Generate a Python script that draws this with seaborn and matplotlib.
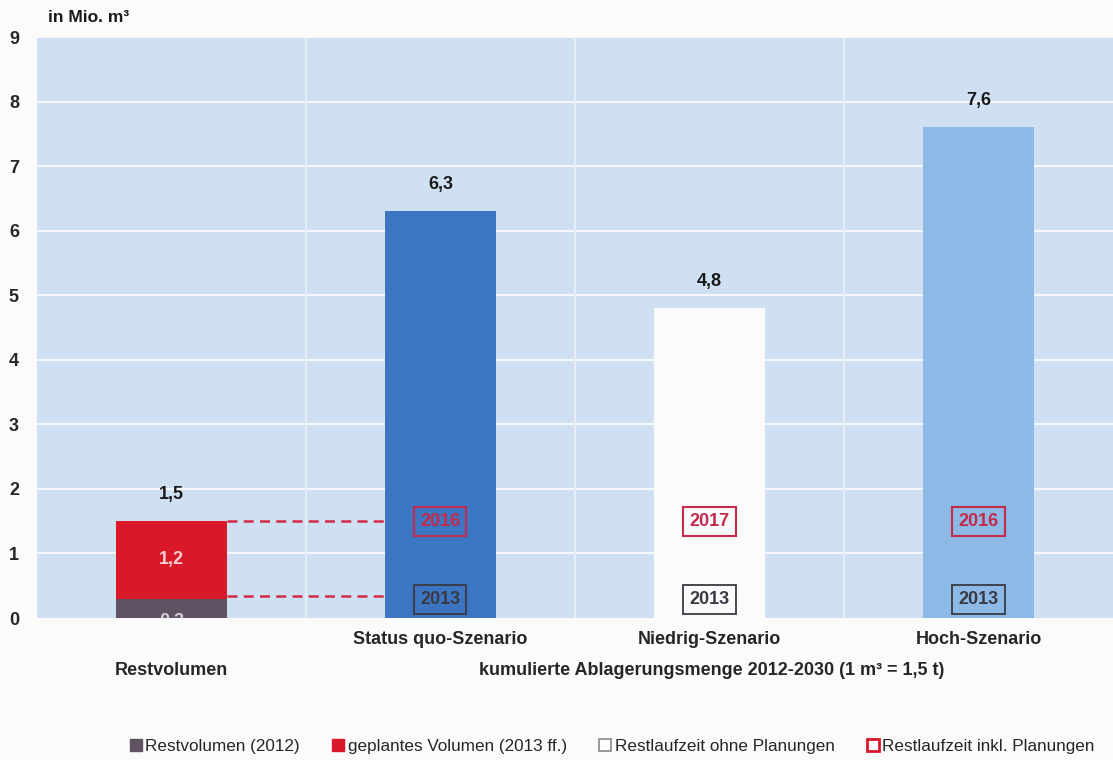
import matplotlib
matplotlib.use("Agg")
import matplotlib.pyplot as plt
import seaborn as sns
import pandas as pd
from matplotlib.patches import Patch

# ---- data ----
categories = ["Restvolumen", "Status quo-Szenario", "Niedrig-Szenario", "Hoch-Szenario"]
totals = [1.5, 6.3, 4.8, 7.6]
rest_2012 = [0.3]            # grey part of Restvolumen
planned = [1.2]              # red part of Restvolumen
total_labels = ["1,5", "6,3", "4,8", "7,6"]
year_low = ["", "2013", "2013", "2013"]
year_high = ["", "2016", "2017", "2016"]
yticks = list(range(0, 10))
legend_labels = ["Restvolumen (2012)", "geplantes Volumen (2013 ff.)",
                 "Restlaufzeit ohne Planungen", "Restlaufzeit inkl. Planungen"]

c_grey = "#5f5262"
c_red = "#d9182a"
c_sq = "#3c76c3"
c_low = "#fbfbfb"
c_high = "#8cb9e6"
c_bg = "#cfe0f3"
c_box_red = "#c42a4a"
c_box_grey = "#3a3a44"

sns.set_theme(style="white")
plt.rcParams["font.family"] = ["Liberation Sans", "DejaVu Sans"]

fig = plt.figure(figsize=(11.13, 7.6), dpi=100, facecolor="#fbfbfb")
ax = fig.add_axes([0.0332, 0.1868, 0.9668, 0.7645])
ax.set_facecolor(c_bg)

df = pd.DataFrame({"cat": categories, "val": totals})
sns.barplot(data=df, x="cat", y="val", hue="cat", order=categories,
            palette=[c_red, c_sq, c_low, c_high], width=0.41, legend=False,
            ax=ax, saturation=1, zorder=3, linewidth=0)
df2 = pd.DataFrame({"cat": categories[:1], "val": rest_2012})
sns.barplot(data=df2, x="cat", y="val", order=categories, color=c_grey,
            width=0.41, ax=ax, saturation=1, zorder=4, linewidth=0)

ax.set_ylim(0, 9)
ax.set_xlim(-0.5, 3.5)
ax.set_yticks(yticks)
ax.set_yticklabels([str(t) for t in yticks], fontsize=13, fontweight="bold")
ax.tick_params(axis="y", length=0, pad=13)
ax.tick_params(axis="x", length=0, pad=9)
for s in ax.spines.values():
    s.set_visible(False)
ax.set_xlabel("")
ax.set_ylabel("")

# grid: white horizontal, category separators
for y in yticks[1:]:
    ax.axhline(y, color="white", lw=1.2, zorder=1)
for xs in [0.5, 1.5, 2.5]:
    ax.axvline(xs, color="#e6eef8", lw=1.5, zorder=1)

# tick labels
ax.set_xticks(range(len(categories)))
ax.set_xticklabels(["", categories[1], categories[2], categories[3]],
                   fontsize=13, fontweight="bold")
ax.text(0, -0.075, categories[0], transform=ax.get_xaxis_transform(),
        ha="center", va="top", fontsize=13, fontweight="bold")
ax.text(2.01, -0.075, "kumulierte Ablagerungsmenge 2012-2030 (1 m³ = 1,5 t)",
        transform=ax.get_xaxis_transform(), ha="center", va="top",
        fontsize=13, fontweight="bold")

# value labels
for i, (v, lab) in enumerate(zip(totals, total_labels)):
    ax.text(i, v + 0.42, lab, ha="center", va="center", fontsize=13,
            fontweight="bold", color="#1a1a1a", zorder=6)
ax.text(0, rest_2012[0] + planned[0] / 2, "1,2", ha="center", va="center",
        fontsize=13, fontweight="bold", color="#f4d0d0", zorder=6)
ax.text(0, -0.06, "0,3", ha="center", va="center", fontsize=13,
        fontweight="bold", color="#d8d0d8", zorder=6, clip_on=True)

# dashed connector lines from bar edges
bars = [p for p in ax.patches if p.get_height() > 0]
rv = bars[0]
sq = bars[1]
x0 = rv.get_x() + rv.get_width()
x1 = sq.get_x()
for y in [totals[0], rest_2012[0] + 0.04]:
    ax.plot([x0, x1], [y, y], ls=(0, (4, 2.5)), color="#d42a45", lw=1.8,
            zorder=5)

# year boxes
for i in range(1, 4):
    ax.text(i, 1.5, year_high[i], ha="center", va="center", fontsize=13,
            fontweight="bold", color=c_box_red, zorder=6,
            bbox=dict(boxstyle="square,pad=0.33", fc="none", ec=c_box_red, lw=1.5))
    ax.text(i, 0.28, year_low[i], ha="center", va="center", fontsize=13,
            fontweight="bold", color=c_box_grey, zorder=6,
            bbox=dict(boxstyle="square,pad=0.33", fc="none", ec=c_box_grey, lw=1.3))

# unit label
fig.text(0.043, 0.977, "in Mio. m³", fontsize=12.5, fontweight="bold",
         ha="left", va="center", color="#1a1a1a")

# legend
handles = [Patch(fc=c_grey, ec=c_grey), Patch(fc=c_red, ec=c_red),
           Patch(fc="white", ec="#888888", lw=1.2), Patch(fc="white", ec=c_red, lw=2)]
fig.legend(handles, legend_labels, loc="center", bbox_to_anchor=(0.55, 0.018),
           ncol=4, frameon=False, fontsize=12.3, handlelength=0.7,
           handleheight=0.7, handletextpad=0.2, columnspacing=1.9)

fig.savefig("out.png", dpi=100, facecolor=fig.get_facecolor())
